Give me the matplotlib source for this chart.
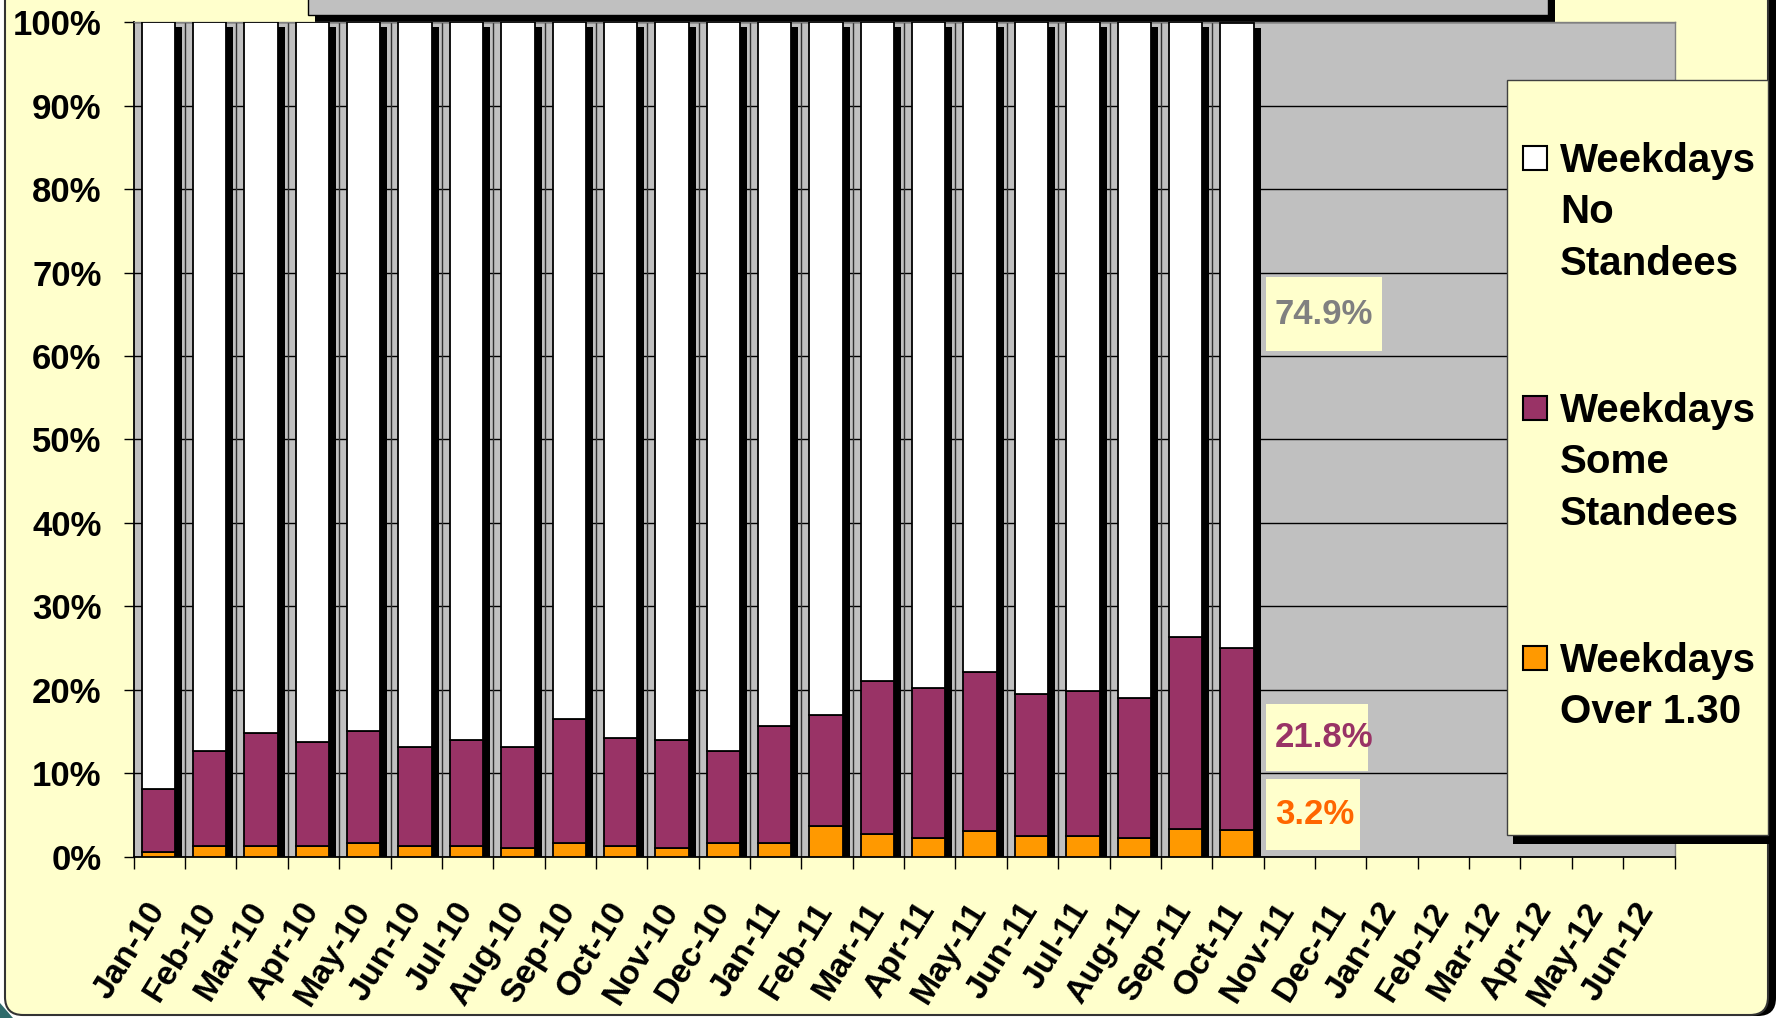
import numpy as np
import matplotlib
matplotlib.use("Agg")
import matplotlib.pyplot as plt
from matplotlib.patches import Rectangle, FancyBboxPatch, Polygon
from matplotlib.transforms import IdentityTransform, ScaledTranslation

plt.rcParams['font.family'] = ['Liberation Sans', 'DejaVu Sans']
plt.rcParams['font.weight'] = 'bold'

# ---------------- data ----------------
months = ['Jan-10', 'Feb-10', 'Mar-10', 'Apr-10', 'May-10', 'Jun-10', 'Jul-10', 'Aug-10',
          'Sep-10', 'Oct-10', 'Nov-10', 'Dec-10', 'Jan-11', 'Feb-11', 'Mar-11', 'Apr-11',
          'May-11', 'Jun-11', 'Jul-11', 'Aug-11', 'Sep-11', 'Oct-11', 'Nov-11', 'Dec-11',
          'Jan-12', 'Feb-12', 'Mar-12', 'Apr-12', 'May-12', 'Jun-12']
over_130 = [0.5, 1.3, 1.3, 1.3, 1.6, 1.3, 1.3, 1.0, 1.6, 1.3, 1.0, 1.6,
            1.6, 3.6, 2.7, 2.2, 3.0, 2.5, 2.5, 2.2, 3.3, 3.2]
some_standees = [7.6, 11.3, 13.5, 12.4, 13.4, 11.8, 12.7, 12.1, 14.9, 12.9, 13.0, 11.0,
                 14.0, 13.4, 18.3, 18.0, 19.1, 17.0, 17.3, 16.8, 23.0, 21.8]
no_standees = [91.9, 87.4, 85.2, 86.3, 85.0, 86.9, 86.0, 86.9, 83.5, 85.8, 86.0, 87.4,
               84.4, 83.0, 79.0, 79.8, 77.9, 80.5, 80.2, 81.0, 73.7, 74.9]
series_names = ['Weekdays\nNo\nStandees', 'Weekdays\nSome\nStandees', 'Weekdays\nOver 1.30']
yticks = list(range(0, 101, 10))

C_WHITE = '#FFFFFF'
C_PURPLE = '#993366'
C_ORANGE = '#FF9900'
C_YELLOW = '#FFFFCC'
C_GREY = '#C0C0C0'

W, H = 1776, 1018
fig = plt.figure(figsize=(W / 100, H / 100), dpi=100)
fig.patch.set_facecolor('white')
idt = IdentityTransform()


def P(x, y):
    """pixel from top-left -> display coords"""
    return (x, H - y)


# ---------------- figure decorations (behind axes) ----------------
fig.patches.append(FancyBboxPatch(P(13, 1016), 1763, 1060, boxstyle='round,pad=0,rounding_size=18',
                                  fc='black', ec='none', transform=idt, zorder=-5))
fig.patches.append(FancyBboxPatch(P(5, 1015), 1763, 1060, boxstyle='round,pad=0,rounding_size=18',
                                  fc=C_YELLOW, ec='#333333', lw=1.5, transform=idt, zorder=-4))
fig.patches.append(Polygon([P(0, 1003), P(0, 1018), P(13, 1018)], closed=True,
                           fc='#2E6B6B', ec='none', transform=idt, zorder=-3))
# title box remnant at top
fig.patches.append(Rectangle(P(315, 22), 1240, 40, fc='black', ec='none', transform=idt, zorder=-2))
fig.patches.append(Rectangle(P(308, 15), 1240, 40, fc=C_GREY, ec='black', lw=1, transform=idt, zorder=-1))

# ---------------- axes ----------------
ax = fig.add_axes([133.7 / W, 1 - 856.5 / H, (1674.5 - 133.7) / W, (856.5 - 22.3) / H])
ax.set_zorder(1)
ax.set_facecolor(C_GREY)
n = len(over_130)
x = np.arange(n) - 0.02
bw = 0.65
over = np.array(over_130)
some = np.array(some_standees)
nos = np.array(no_standees)
total = over + some + nos

# shadows behind the stacks
ax.bar(x + 0.136, total - 0.55, width=bw, color='black', zorder=2, linewidth=0)
# category separators next to bars
ax.vlines(np.arange(n - 1) + 0.5, 0, 100, color='#303030', lw=1, zorder=1.5)

ax.bar(x, over, width=bw, color=C_ORANGE, edgecolor='black', lw=1.3, zorder=3)
ax.bar(x, some, bottom=over, width=bw, color=C_PURPLE, edgecolor='black', lw=1.3, zorder=3)
ax.bar(x, nos, bottom=over + some, width=bw, color=C_WHITE, edgecolor='black', lw=1.3, zorder=3)

ax.set_xlim(-0.5, len(months) - 0.5)
ax.set_ylim(0, 100)
ax.yaxis.grid(True, color='black', lw=1)
ax.set_axisbelow(True)

ax.set_yticks(yticks)
ax.set_yticklabels([f'{v}%' for v in yticks])
ax.tick_params(axis='y', direction='out', length=7.2, width=1, pad=16, labelsize=25, colors='black')

ax.set_xticks(np.arange(len(months)))
ax.set_xticklabels(months, rotation=58, ha='right', rotation_mode='default')
ax.tick_params(axis='x', which='major', length=0, pad=29, labelsize=24.5)
ax.set_xticks(np.arange(len(months) + 1) - 0.5, minor=True)
ax.tick_params(axis='x', which='minor', direction='out', length=8.6, width=1, color='black')
shift = ScaledTranslation(12 / 100, 0, fig.dpi_scale_trans)
for lbl in ax.get_xticklabels():
    lbl.set_transform(lbl.get_transform() + shift)

for s in ['left', 'bottom']:
    ax.spines[s].set_color('black')
    ax.spines[s].set_linewidth(1.3)
for s in ['top', 'right']:
    ax.spines[s].set_color('#808080')
    ax.spines[s].set_linewidth(1)

# ---------------- value labels for last month ----------------
lab_x = n - 1 + 0.72
box_left = n - 1 + 0.55
labels = [(f'{no_standees[-1]:.1f}%', '#808080', 65.0, 2.26, 8.9),
          (f'{some_standees[-1]:.1f}%', C_PURPLE, 14.3, 1.99, 8.0),
          (f'{over_130[-1]:.1f}%', '#FF6600', 5.0, 1.82, 8.5)]
for txt, col, yc, bwid, bh in labels:
    ax.add_patch(Rectangle((box_left, yc - bh / 2), bwid, bh, fc=C_YELLOW, ec='none', zorder=4,
                           clip_on=False))
    ax.text(lab_x, yc, txt, color=col, fontsize=25, fontweight='bold',
            ha='left', va='center', zorder=5)

# ---------------- legend (manual, above axes) ----------------
fig.patches.append(Rectangle(P(1513, 844), 263, 757, fc='black', ec='none', transform=idt, zorder=3))
fig.patches.append(Rectangle(P(1507, 835), 261, 755, fc=C_YELLOW, ec='#404040', lw=1, transform=idt, zorder=3.1))
colors = [C_WHITE, C_PURPLE, C_ORANGE]
base0, step, line_h = 172, 250, 51.3
for k, (name, c) in enumerate(zip(series_names, colors)):
    b = base0 + k * step
    fig.patches.append(Rectangle(P(1523, b - 14.5 + 12), 24, 24, fc=c, ec='black', lw=1.5,
                                 transform=idt, zorder=3.2))
    for j, line in enumerate(name.split('\n')):
        xx, yy = P(1560, b + j * line_h)
        fig.text(xx / W, yy / H, line, fontsize=29, fontweight='bold', ha='left', va='baseline',
                 color='black', zorder=3.3)

fig.savefig('out.png', dpi=100, facecolor=fig.get_facecolor())
